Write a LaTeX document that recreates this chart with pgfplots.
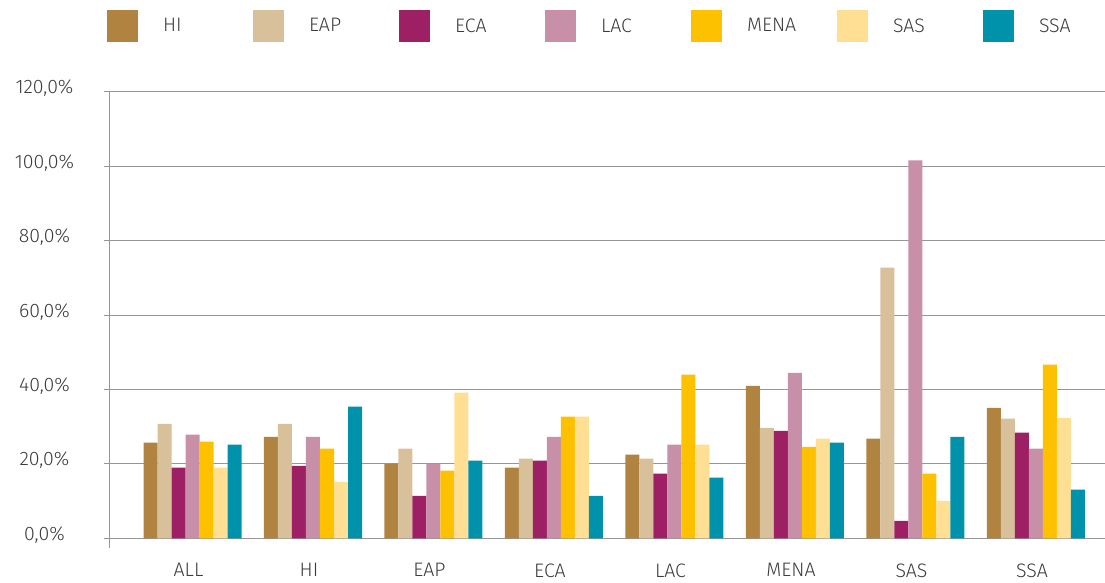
\documentclass[border=0pt]{standalone}
\usepackage{pgfplots}
\pgfplotsset{compat=1.18}
\usepackage{pgfplotstable}
\usepackage{fontspec}
\setmainfont{Fira Sans}[UprightFont=* Light]
\definecolor{cHI}{RGB}{176,132,64}
\definecolor{cEAP}{RGB}{216,192,155}
\definecolor{cECA}{RGB}{156,32,99}
\definecolor{cLAC}{RGB}{200,144,168}
\definecolor{cMENA}{RGB}{253,193,0}
\definecolor{cSAS}{RGB}{255,223,148}
\definecolor{cSSA}{RGB}{0,146,170}
\definecolor{textgray}{RGB}{60,60,60}
\definecolor{gridgray}{RGB}{150,150,150}
\pgfplotstableread{
x HI EAP ECA LAC MENA SAS SSA
0 25.7 30.8 19.0 27.9 26.0 19.0 25.2
1 27.3 30.8 19.5 27.3 24.1 15.2 35.4
2 20.0 24.1 11.4 20.0 18.2 39.2 20.9
3 19.0 21.4 20.9 27.3 32.7 32.7 11.4
4 22.5 21.4 17.4 25.2 44.0 25.2 16.3
5 41.0 29.7 28.9 44.5 24.6 26.8 25.7
6 26.8 72.8 4.7 101.6 17.4 10.1 27.3
7 35.1 32.2 28.4 24.1 46.7 32.4 13.1
}\data
\pgfplotsset{sqlegend/.style={legend image code/.code={\fill[##1] (0pt,-16pt) rectangle (31pt,16pt);}}}
\begin{document}
\begin{tikzpicture}
\useasboundingbox (0,0) rectangle (1105pt,582pt);
\begin{axis}[
  at={(109pt,34pt)}, anchor=south west,
  scale only axis, width=996pt, height=456pt,
  xmin=-0.693, xmax=7.573, ymin=-2.6, ymax=120,
  ybar=0pt, bar width=14pt,
  axis lines*=left,
  x axis line style={draw=none},
  y axis line style={draw=gridgray, line width=1pt},
  ytick={0,20,40,60,80,100,120},
  yticklabels={{0,0\%},{20,0\%},{40,0\%},{60,0\%},{80,0\%},{100,0\%},{120,0\%}},
  xtick={0,1,2,3,4,5,6,7},
  xticklabels={ALL,HI,EAP,ECA,LAC,MENA,SAS,SSA},
  xtick style={draw=none},
  ytick style={draw=gridgray, line width=1pt},
  tick align=outside, major tick length=5pt,
  ymajorgrids, major grid style={draw=gridgray, line width=1pt},
  tick label style={font=\fontsize{19.5}{22}\selectfont, text=textgray},
  yticklabel style={text width=62pt, align=center, xshift=-25pt, yshift=3.5pt},
  xticklabel style={yshift=-7pt, xshift=-4pt},
  legend columns=7,
  legend style={at={(axis description cs:-0.002,1.1798)}, anchor=north west,
    draw=none, fill=none, inner sep=0pt, outer sep=0pt,
    nodes={inner sep=0pt, anchor=west, text=textgray, font=\fontsize{19.5}{22}\selectfont},
    /tikz/every odd column/.append style={column sep=25pt}},
]
\addplot[fill=cHI, draw=none, sqlegend] table[x=x,y=HI]{\data};
\addlegendentry{\makebox[90pt][l]{HI}}
\addplot[fill=cEAP, draw=none, sqlegend] table[x=x,y=EAP]{\data};
\addlegendentry{\makebox[90pt][l]{EAP}}
\addplot[fill=cECA, draw=none, sqlegend] table[x=x,y=ECA]{\data};
\addlegendentry{\makebox[90pt][l]{ECA}}
\addplot[fill=cLAC, draw=none, sqlegend] table[x=x,y=LAC]{\data};
\addlegendentry{\makebox[90pt][l]{LAC}}
\addplot[fill=cMENA, draw=none, sqlegend] table[x=x,y=MENA]{\data};
\addlegendentry{\makebox[90pt][l]{MENA}}
\addplot[fill=cSAS, draw=none, sqlegend] table[x=x,y=SAS]{\data};
\addlegendentry{\makebox[90pt][l]{SAS}}
\addplot[fill=cSSA, draw=none, sqlegend] table[x=x,y=SSA]{\data};
\addlegendentry{\makebox[90pt][l]{SSA}}
\end{axis}
\end{tikzpicture}
\end{document}
